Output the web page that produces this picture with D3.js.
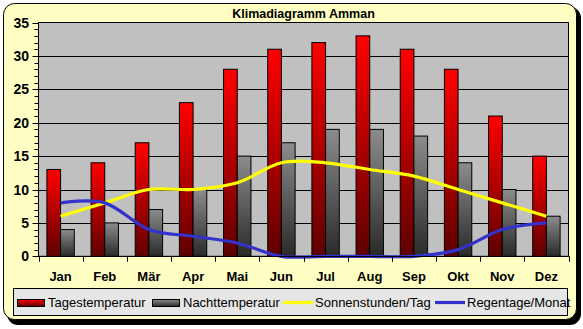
<!DOCTYPE html>
<html>
<head>
<meta charset="utf-8">
<script src="https://cdn.jsdelivr.net/npm/d3@7"></script>
<style>
  html, body { margin: 0; padding: 0; background: #ffffff; }
  svg { display: block; }
</style>
</head>
<body>
<svg id="chart" width="583" height="329"></svg>
<script>
// Klimadaten Amman
const months = ["Jan", "Feb", "Mär", "Apr", "Mai", "Jun", "Jul", "Aug", "Sep", "Okt", "Nov", "Dez"];
const tagestemperatur = [13, 14, 17, 23, 28, 31, 32, 33, 31, 28, 21, 15];
const nachttemperatur = [4, 5, 7, 10, 15, 17, 19, 19, 18, 14, 10, 6];
const sonnenstunden = [6, 8, 10, 10, 11, 14, 14, 13, 12, 10, 8, 6];
const regentage = [8, 8, 4, 3, 2, 0, 0, 0, 0, 1, 4, 5];
const yTicks = [0, 5, 10, 15, 20, 25, 30, 35];

const svg = d3.select("#chart");
const defs = svg.append("defs");

function vGrad(id, top, bottom) {
  const g = defs.append("linearGradient").attr("id", id)
    .attr("x1", 0).attr("y1", 0).attr("x2", 0).attr("y2", 1);
  g.append("stop").attr("offset", "0%").attr("stop-color", top);
  g.append("stop").attr("offset", "100%").attr("stop-color", bottom);
}
vGrad("gradTag", "#ff0000", "#5e0000");
vGrad("gradNacht", "#8c8c8c", "#2a2a2a");

// Rahmen mit Schatten
svg.append("rect").attr("x", 7).attr("y", 7).attr("width", 574).attr("height", 318)
  .attr("rx", 11).attr("fill", "#000");
svg.append("rect").attr("x", 3.5).attr("y", 3.5).attr("width", 573).attr("height", 316)
  .attr("rx", 11).attr("fill", "#ffffc4").attr("stroke", "#000").attr("stroke-width", 1);

const plot = { left: 38.5, right: 568.5, top: 22.5, bottom: 256.3 };

const x = d3.scaleBand().domain(months).range([plot.left, plot.right]).padding(0);
const bw = x.bandwidth();
const gap = 0.19;
const x1 = d3.scaleBand().domain(["tag", "nacht"]).range([bw * gap, bw * (1 - gap)]).padding(0);
const y = d3.scaleLinear().domain([0, 35]).range([plot.bottom, plot.top]);

// Zeichenfläche
svg.append("rect")
  .attr("x", plot.left).attr("y", plot.top)
  .attr("width", plot.right - plot.left).attr("height", plot.bottom - plot.top)
  .attr("fill", "#c0c0c0").attr("stroke", "#000").attr("stroke-width", 1);

// Gitterlinien
svg.append("g").selectAll("line").data(yTicks.filter(d => d > 0 && d < 35)).join("line")
  .attr("x1", plot.left).attr("x2", plot.right)
  .attr("y1", d => Math.round(y(d)) + 0.5).attr("y2", d => Math.round(y(d)) + 0.5)
  .attr("stroke", "#000").attr("stroke-width", 1);

// Balken
const bars = svg.append("g");
months.forEach((m, i) => {
  bars.append("rect")
    .attr("x", x(m) + x1("tag")).attr("y", y(tagestemperatur[i]))
    .attr("width", x1.bandwidth()).attr("height", y(0) - y(tagestemperatur[i]))
    .attr("fill", "url(#gradTag)").attr("stroke", "#000").attr("stroke-width", 1);
  bars.append("rect")
    .attr("x", x(m) + x1("nacht")).attr("y", y(nachttemperatur[i]))
    .attr("width", x1.bandwidth()).attr("height", y(0) - y(nachttemperatur[i]))
    .attr("fill", "url(#gradNacht)").attr("stroke", "#000").attr("stroke-width", 1);
});

// Geglättete Linien
const line = d3.line()
  .x((d, i) => x(months[i]) + bw / 2)
  .y(d => y(d))
  .curve(d3.curveCardinal.tension(0));

svg.append("path").datum(sonnenstunden).attr("d", line)
  .attr("fill", "none").attr("stroke", "#ffff00").attr("stroke-width", 3.2);
svg.append("path").datum(regentage).attr("d", line)
  .attr("fill", "none").attr("stroke", "#3333cc").attr("stroke-width", 3.2);

// Y-Achse
const yAxisG = svg.append("g");
yAxisG.append("line").attr("x1", plot.left).attr("x2", plot.left)
  .attr("y1", plot.top).attr("y2", plot.bottom).attr("stroke", "#000");
yAxisG.selectAll("line.minor").data(d3.range(0, 36)).join("line")
  .attr("class", "minor")
  .attr("x1", d => d % 5 === 0 ? plot.left - 6 : plot.left - 4).attr("x2", plot.left)
  .attr("y1", d => Math.round(y(d)) + 0.5).attr("y2", d => Math.round(y(d)) + 0.5)
  .attr("stroke", "#000");
yAxisG.selectAll("text").data(yTicks).join("text")
  .attr("x", 29).attr("y", d => y(d) + 5)
  .attr("text-anchor", "end")
  .attr("font-family", "'Liberation Sans', Arial, sans-serif")
  .attr("font-weight", "bold").attr("font-size", 14)
  .text(d => d);

// X-Achse
const xAxisG = svg.append("g");
xAxisG.append("line").attr("x1", plot.left).attr("x2", plot.right)
  .attr("y1", Math.round(plot.bottom) + 0.5).attr("y2", Math.round(plot.bottom) + 0.5).attr("stroke", "#000");
xAxisG.selectAll("line.tick").data(d3.range(0, months.length + 1)).join("line")
  .attr("class", "tick")
  .attr("x1", i => Math.round(plot.left + i * bw) + 0.5).attr("x2", i => Math.round(plot.left + i * bw) + 0.5)
  .attr("y1", plot.bottom).attr("y2", plot.bottom + 5.5)
  .attr("stroke", "#000");
xAxisG.selectAll("text").data(months).join("text")
  .attr("x", d => x(d) + bw / 2).attr("y", 281)
  .attr("text-anchor", "middle")
  .attr("font-family", "'Liberation Sans', Arial, sans-serif")
  .attr("font-weight", "bold").attr("font-size", 13)
  .text(d => d);

// Titel
svg.append("text")
  .attr("x", (plot.left + plot.right) / 2).attr("y", 18)
  .attr("text-anchor", "middle")
  .attr("font-family", "'Liberation Sans', Arial, sans-serif")
  .attr("font-weight", "bold").attr("font-size", 12.5)
  .text("Klimadiagramm Amman");

// Legende
const legend = svg.append("g");
legend.append("rect").attr("x", 13.5).attr("y", 288.5).attr("width", 554).attr("height", 27)
  .attr("fill", "#e6e6e6").attr("stroke", "#000");

const legendItems = [
  { label: "Tagestemperatur", type: "bar", fill: "url(#gradTag)", x: 17 },
  { label: "Nachttemperatur", type: "bar", fill: "url(#gradNacht)", x: 152 },
  { label: "Sonnenstunden/Tag", type: "line", color: "#ffff00", x: 283 },
  { label: "Regentage/Monat", type: "line", color: "#3333cc", x: 435 }
];
legendItems.forEach(it => {
  if (it.type === "bar") {
    legend.append("rect").attr("x", it.x + 0.5).attr("y", 299.5).attr("width", 27).attr("height", 7)
      .attr("fill", it.fill).attr("stroke", "#000");
  } else {
    legend.append("line").attr("x1", it.x).attr("x2", it.x + 30)
      .attr("y1", 302.5).attr("y2", 302.5)
      .attr("stroke", it.color).attr("stroke-width", 3.2);
  }
  legend.append("text")
    .attr("x", it.type === "bar" ? it.x + 31 : it.x + 32).attr("y", 307)
    .attr("font-family", "'Liberation Sans', Arial, sans-serif")
    .attr("font-size", 13)
    .text(it.label);
});
</script>
</body>
</html>
